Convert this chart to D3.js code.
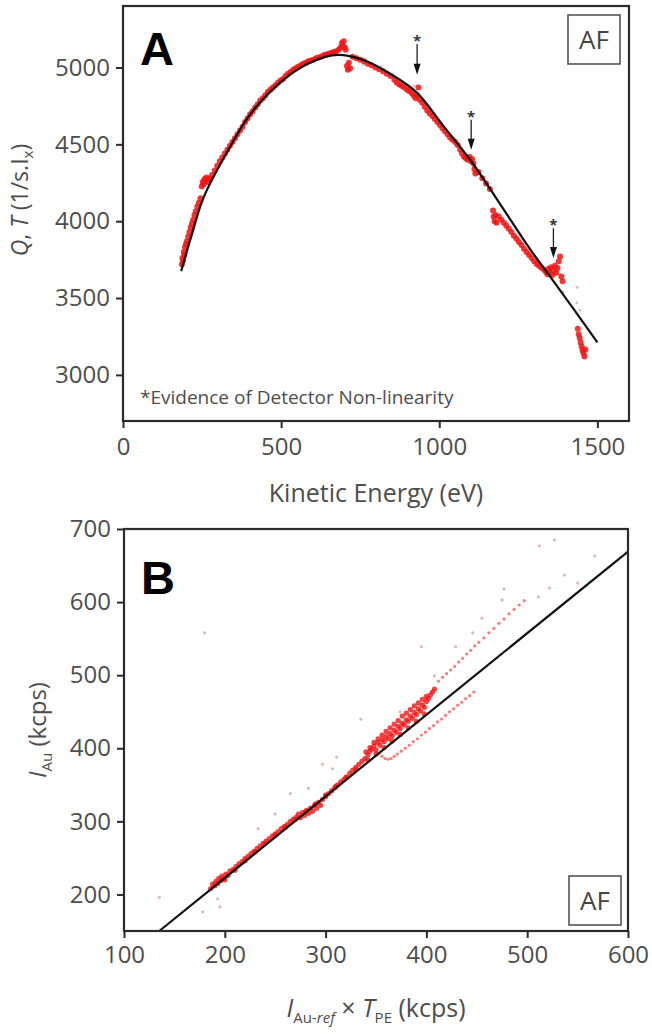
<!DOCTYPE html>
<html>
<head>
<meta charset="utf-8">
<script src="https://cdn.jsdelivr.net/npm/d3@7"></script>
<style>
  html, body { margin: 0; padding: 0; background: #fff; }
  svg { display: block; }
  text { font-family: "Open Sans", "Noto Sans", sans-serif; }
</style>
</head>
<body>
<svg id="chart" width="652" height="1035"></svg>
<script>
// ---------- Panel A: transmission function vs kinetic energy ----------
const aTicksX = [0, 500, 1000, 1500];
const aTicksY = [3000, 3500, 4000, 4500, 5000];

// polynomial fit (black curve)
const aFitKE = [184, 218, 256, 336, 402, 507, 600, 679, 758, 850, 930, 1009, 1101, 1193, 1285, 1377, 1500];
const aFitQ  = [3675, 3916, 4160, 4474, 4695, 4920, 5039, 5082, 5050, 4953, 4835, 4630, 4390, 4110, 3825, 3565, 3212];

// measured Q,T points (red)
const aPoints = [
  [186,3720],[188,3760],[190,3745],[192,3800],[194,3780],[196,3830],[199,3850],[202,3870],[206,3900],[210,3930],
  [214,3960],[218,3985],[222,4010],[226,4040],[230,4065],[235,4095],[240,4120],[245,4150],[249,4225],[252,4255],
  [255,4240],[258,4275],[261,4260],[264,4285],[267,4255],[270,4270],[275,4280],[282,4300],[290,4330],[298,4360],
  [306,4390],[314,4415],[322,4440],[330,4465],[338,4490],[346,4515],[354,4540],[362,4565],[370,4590],[378,4615],
  [386,4645],[394,4670],[402,4695],[410,4715],[418,4740],[426,4760],[434,4785],[442,4800],[450,4820],[458,4840],
  [466,4855],[474,4870],[482,4885],[490,4900],[498,4915],[506,4925],[514,4945],[522,4960],[530,4970],[538,4985],
  [546,4995],[554,5005],[562,5015],[570,5025],[578,5030],[586,5040],[594,5045],[602,5050],[610,5060],[618,5065],
  [626,5070],[634,5080],[642,5085],[650,5090],[658,5095],[666,5100],[674,5105],[682,5115],[688,5130],[692,5160],
  [695,5140],[698,5170],[701,5130],[704,5115],[708,5010],[711,4985],[714,5030],[718,4995],[726,5070],[738,5060],
  [750,5050],[762,5040],[774,5025],[786,5015],[798,5000],[810,4990],[822,4975],[834,4960],[846,4945],[858,4920],
  [866,4900],[874,4890],[882,4880],[890,4870],[898,4855],[906,4845],[914,4830],[920,4815],[926,4800],[930,4820],
  [934,4870],[938,4790],[946,4770],[954,4745],[962,4720],[970,4700],[978,4685],[986,4665],[994,4645],[1002,4625],
  [1010,4605],[1018,4585],[1026,4565],[1034,4545],[1042,4530],[1050,4515],[1058,4495],[1066,4465],[1072,4440],[1078,4420],
  [1084,4410],[1090,4400],[1095,4420],[1100,4390],[1104,4405],[1108,4375],[1111,4340],[1114,4310],[1124,4320],[1136,4280],
  [1148,4245],[1160,4210],[1170,4070],[1172,4030],[1175,4000],[1178,4040],[1181,3990],[1188,4030],[1196,4010],[1204,3990],
  [1212,3970],[1220,3950],[1228,3930],[1236,3905],[1244,3885],[1252,3865],[1260,3845],[1268,3820],[1276,3800],[1284,3780],
  [1292,3760],[1300,3740],[1308,3722],[1316,3708],[1324,3695],[1332,3682],[1338,3670],[1342,3655],[1346,3690],[1350,3665],
  [1354,3700],[1358,3650],[1362,3680],[1366,3710],[1370,3665],[1374,3695],[1378,3740],[1382,3770],[1386,3640],[1390,3610],
  [1438,3300],[1441,3265],[1444,3240],[1447,3210],[1450,3185],[1453,3160],[1456,3140],[1459,3120],[1462,3165]
];
const aFaint = [[716,5030],[760,5020],[806,4975],[920,4880],[1392,3540],[1436,3570],[1445,3420],[1435,3470]];

// non-linearity markers: star position and arrow tip
const arrowKE   = [930, 1101, 1361];
const arrowTopQ = [5186, 4692, 3987];
const arrowTipQ = [4953, 4464, 3760];

// ---------- Panel B: measured vs reference intensity ----------
const bTicksX = [100, 200, 300, 400, 500, 600];
const bTicksY = [200, 300, 400, 500, 600, 700];
const bFitX = [135, 600];
const bFitY = [150, 669];

// dense main band
const bBand = [
  [186,208],[188,214],[190,212],[191,218],[193,215],[194,222],[196,219],[197,225],[199,222],[201,228],
  [203,226],[205,232],[208,234],[211,238],[214,242],[217,245],[220,249],[223,252],[226,256],[229,259],
  [232,263],[235,266],[238,270],[241,273],[244,276],[247,280],[250,283],[253,286],[256,290],[259,293],
  [262,296],[265,300],[268,303],[271,306],[273,310],[275,305],[277,312],[279,308],[281,315],[283,311],
  [285,318],[287,314],[289,322],[291,318],[293,326],[295,322],[297,330],[300,334],[303,338],[306,342],
  [309,346],[312,350],[315,354],[318,357],[321,361],[324,366],[327,370],[330,374],[333,378],[336,382],
  [339,386],[342,391],[344,396],[346,399],[348,403],[350,398],[352,408],[354,404],[356,412],[358,409],
  [360,416],[362,413],[364,420],[366,417],[368,425],[370,422],[372,430],[374,427],[376,434],[378,432],
  [380,439],[382,437],[384,444],[386,441],[388,449],[390,446],[392,454],[394,451],[396,459],[398,456],
  [400,464],[402,468],[404,473],[406,477],[408,481],
  [200,220],[210,233],[220,246],[230,258],[240,270],[250,281],[260,292],[270,303],[280,313],[290,324],
  [300,336],[310,348],[320,360],[330,371],
  [340,395],[344,401],[348,408],[352,413],[356,418],[360,423],[364,428],[368,433],[372,438],[376,444],
  [380,448],[384,453],[388,458],[392,462],[396,467],[400,471],[342,384],[350,392],[358,401],[366,410],
  [374,419],[382,428],[390,437],[398,447]
];
// sparser upper strand above the band
const bUpper = [
  [412,492],[416,497],[420,502],[424,507],[428,512],[432,518],[436,523],[440,529],[444,534],[448,540],
  [452,545],[457,551],[462,558],[467,564],[472,571],[477,577],[482,584],[487,590],[492,596],[497,602]
];
// lower hooked tail below the fit
const bTail = [
  [353,393],[356,389],[359,386],[362,385],[365,386],[368,389],[371,392],[375,396],[379,400],[383,404],
  [387,409],[391,413],[395,418],[399,422],[403,427],[407,431],[411,436],[415,440],[419,445],[423,450],
  [427,454],[431,459],[435,463],[439,468],[443,472],[447,477]
];
const bFaint = [
  [135,196],[178,176],[195,183],[193,194],[180,558],[233,290],[250,310],[265,338],[283,345],[297,378],
  [307,372],[311,388],[335,440],[374,450],[395,539],[408,499],[429,539],[446,558],[455,578],[475,603],
  [477,618],[511,607],[512,677],[522,619],[527,685],[537,637],[550,626],[567,663]
];

const svg = d3.select("#chart");
const TICK_COLOR = "#4d4d4d";
const FRAME = "#2b2b2b";
const RED = "#f01414";

function frame(g, x0, x1, y0, y1) {
  g.append("rect")
    .attr("x", x0).attr("y", y1)
    .attr("width", x1 - x0).attr("height", y0 - y1)
    .attr("fill", "none").attr("stroke", FRAME).attr("stroke-width", 2.2);
}

function styleAxis(sel) {
  sel.select(".domain").remove();
  sel.selectAll(".tick line").attr("stroke", FRAME).attr("stroke-width", 2);
  sel.selectAll(".tick text")
    .attr("fill", TICK_COLOR)
    .style("font-size", "24px")
    .style("font-family", "'Open Sans', sans-serif");
}

function afBox(g, x, y) {
  g.append("rect").attr("x", x).attr("y", y).attr("width", 52).attr("height", 49)
    .attr("fill", "#fff").attr("stroke", "#555").attr("stroke-width", 1.6);
  g.append("text").attr("x", x + 26).attr("y", y + 34)
    .attr("text-anchor", "middle").attr("fill", "#444")
    .style("font-size", "26px").text("AF");
}

function dots(g, data, x, y, r, fill, opacity) {
  g.append("g").selectAll("circle").data(data).join("circle")
    .attr("cx", d => x(d[0])).attr("cy", d => y(d[1])).attr("r", r)
    .attr("fill", fill).attr("opacity", opacity);
}

const fmt = d3.format("d");

// ===== Panel A =====
const xA = d3.scaleLinear().domain([0, 1600]).range([123, 629]);
const yA = d3.scaleLinear().domain([2700, 5400]).range([421, 6]);
const gA = svg.append("g");

gA.append("g")
  .attr("transform", `translate(0,${yA.range()[0]})`)
  .call(d3.axisBottom(xA).tickValues(aTicksX).tickFormat(fmt).tickSize(7).tickPadding(10))
  .call(styleAxis);
gA.append("g")
  .attr("transform", `translate(${xA.range()[0]},0)`)
  .call(d3.axisLeft(yA).tickValues(aTicksY).tickFormat(fmt).tickSize(7).tickPadding(6))
  .call(styleAxis);

dots(gA, aFaint, xA, yA, 1.5, "#c98a8a", 0.55);
dots(gA, aPoints, xA, yA, 3, RED, 0.85);

const fitA = aFitKE.map((k, i) => [k, aFitQ[i]]);
gA.append("path").datum(fitA)
  .attr("d", d3.line().x(d => xA(d[0])).y(d => yA(d[1])).curve(d3.curveCatmullRom.alpha(0.5)))
  .attr("fill", "none").attr("stroke", "#111").attr("stroke-width", 2.2);

// arrows with asterisks
arrowKE.forEach((k, i) => {
  const x = xA(k), yTop = yA(arrowTopQ[i]), yTip = yA(arrowTipQ[i]);
  gA.append("text").attr("x", x).attr("y", yTop + 7)
    .attr("text-anchor", "middle").attr("fill", "#333")
    .style("font-size", "15px").style("font-weight", "bold").text("*");
  gA.append("line").attr("x1", x).attr("x2", x).attr("y1", yTop + 5).attr("y2", yTip - 9)
    .attr("stroke", "#222").attr("stroke-width", 1.3);
  gA.append("path")
    .attr("d", `M${x - 3.5},${yTip - 11} L${x + 3.5},${yTip - 11} L${x},${yTip} Z`)
    .attr("fill", "#111");
});

frame(gA, xA.range()[0], xA.range()[1], yA.range()[0], yA.range()[1]);
afBox(gA, 568, 15);

gA.append("text").attr("x", 140).attr("y", 65)
  .style("font-family", "'Liberation Sans', Arial, sans-serif")
  .style("font-weight", "bold").style("font-size", "47px").attr("fill", "#000").text("A");

gA.append("text").attr("x", 140).attr("y", 404).attr("fill", TICK_COLOR)
  .style("font-size", "19px").text("*Evidence of Detector Non-linearity");

gA.append("text").attr("x", 376).attr("y", 502).attr("text-anchor", "middle")
  .attr("fill", TICK_COLOR).style("font-size", "25px").text("Kinetic Energy (eV)");

const yTitleA = gA.append("text")
  .attr("transform", "translate(28,200) rotate(-90)")
  .attr("text-anchor", "middle").attr("fill", TICK_COLOR).style("font-size", "23px");
yTitleA.append("tspan").style("font-style", "italic").text("Q");
yTitleA.append("tspan").text(", ");
yTitleA.append("tspan").style("font-style", "italic").text("T");
yTitleA.append("tspan").text(" (1/s.I");
yTitleA.append("tspan").attr("dy", 5).style("font-size", "15px").text("x");
yTitleA.append("tspan").attr("dy", -5).text(")");

// ===== Panel B =====
const xB = d3.scaleLinear().domain([100, 600]).range([124, 628]);
const yB = d3.scaleLinear().domain([150, 700]).range([931, 529]);
const gB = svg.append("g");

gB.append("g")
  .attr("transform", `translate(0,${yB.range()[0]})`)
  .call(d3.axisBottom(xB).tickValues(bTicksX).tickFormat(fmt).tickSize(7).tickPadding(8))
  .call(styleAxis);
gB.append("g")
  .attr("transform", `translate(${xB.range()[0]},0)`)
  .call(d3.axisLeft(yB).tickValues(bTicksY).tickFormat(fmt).tickSize(7).tickPadding(6))
  .call(styleAxis);

dots(gB, bFaint, xB, yB, 1.6, "#c98a8a", 0.6);
dots(gB, bUpper, xB, yB, 1.6, RED, 0.55);
dots(gB, bTail, xB, yB, 1.6, RED, 0.55);
dots(gB, bBand, xB, yB, 2.6, RED, 0.8);

const fitB = bFitX.map((v, i) => [v, bFitY[i]]);
gB.append("path").datum(fitB)
  .attr("d", d3.line().x(d => xB(d[0])).y(d => yB(d[1])))
  .attr("fill", "none").attr("stroke", "#111").attr("stroke-width", 2.2);

frame(gB, xB.range()[0], xB.range()[1], yB.range()[0], yB.range()[1]);
afBox(gB, 569, 876);

gB.append("text").attr("x", 141).attr("y", 594)
  .style("font-family", "'Liberation Sans', Arial, sans-serif")
  .style("font-weight", "bold").style("font-size", "47px").attr("fill", "#000").text("B");

const xTitleB = gB.append("text").attr("x", 376).attr("y", 1017)
  .attr("text-anchor", "middle").attr("fill", TICK_COLOR).style("font-size", "25px");
xTitleB.append("tspan").style("font-style", "italic").text("I");
xTitleB.append("tspan").attr("dy", 6).style("font-size", "15px").text("Au-");
xTitleB.append("tspan").style("font-size", "15px").style("font-style", "italic").text("ref");
xTitleB.append("tspan").attr("dy", -6).text(" × ");
xTitleB.append("tspan").style("font-style", "italic").text("T");
xTitleB.append("tspan").attr("dy", 6).style("font-size", "15px").text("PE");
xTitleB.append("tspan").attr("dy", -6).text(" (kcps)");

const yTitleB = gB.append("text")
  .attr("transform", "translate(46,730) rotate(-90)")
  .attr("text-anchor", "middle").attr("fill", TICK_COLOR).style("font-size", "24px");
yTitleB.append("tspan").style("font-style", "italic").text("I");
yTitleB.append("tspan").attr("dy", 6).style("font-size", "15px").text("Au");
yTitleB.append("tspan").attr("dy", -6).text(" (kcps)");
</script>
</body>
</html>
